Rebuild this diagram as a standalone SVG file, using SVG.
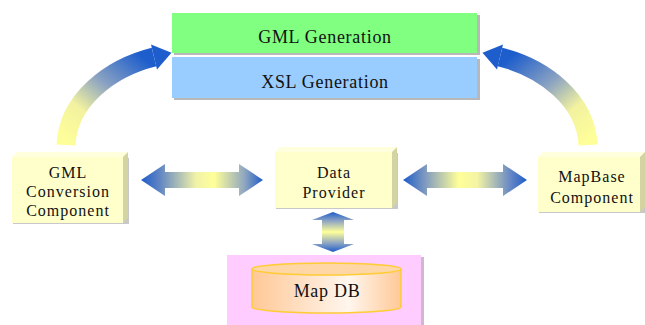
<svg xmlns="http://www.w3.org/2000/svg" width="645" height="325" viewBox="0 0 645 325">
  <defs>
    <style>
      text { font-family: 'Liberation Serif', 'Times New Roman', serif; fill: #111; text-anchor: middle; }
      .top { font-size: 18px; letter-spacing: 0.7px; }
      .node { font-size: 16px; letter-spacing: 1px; }
      .front { fill: #FFFFCC; }
      .topface { fill: #FFFFDD; }
      .side { fill: #D4D4A2; }
      .shadow { fill: #B8B8B8; }
    </style>
    <linearGradient id="arcL" gradientUnits="userSpaceOnUse" x1="66" y1="145" x2="140" y2="55">
      <stop offset="0" stop-color="#FFFF99"/>
      <stop offset="0.32" stop-color="#F2F2A0"/>
      <stop offset="0.62" stop-color="#8AA2C2"/>
      <stop offset="1" stop-color="#1E5ECC"/>
    </linearGradient>
    <linearGradient id="hArrow" x1="0" y1="0" x2="1" y2="0">
      <stop offset="0" stop-color="#1E5CC8"/>
      <stop offset="0.15" stop-color="#5F84C4"/>
      <stop offset="0.45" stop-color="#F0F2A8"/>
      <stop offset="0.6" stop-color="#FFFF99"/>
      <stop offset="0.85" stop-color="#8FA6C0"/>
      <stop offset="1" stop-color="#1E5CC8"/>
    </linearGradient>
    <linearGradient id="hArrow2" x1="0" y1="0" x2="1" y2="0">
      <stop offset="0" stop-color="#1E5CC8"/>
      <stop offset="0.18" stop-color="#7F9AC0"/>
      <stop offset="0.45" stop-color="#FFFF99"/>
      <stop offset="0.6" stop-color="#F4F4A4"/>
      <stop offset="0.85" stop-color="#6F8EC4"/>
      <stop offset="1" stop-color="#1E5CC8"/>
    </linearGradient>
    <linearGradient id="vArrow" x1="0" y1="0" x2="0" y2="1">
      <stop offset="0" stop-color="#1E5CC8"/>
      <stop offset="0.22" stop-color="#8CA4C4"/>
      <stop offset="0.5" stop-color="#FFFF99"/>
      <stop offset="0.78" stop-color="#8CA4C4"/>
      <stop offset="1" stop-color="#1E5CC8"/>
    </linearGradient>
    <linearGradient id="cyl" x1="0" y1="0" x2="1" y2="0">
      <stop offset="0" stop-color="#FFC896"/>
      <stop offset="0.65" stop-color="#FFF6EE"/>
      <stop offset="1" stop-color="#FFC896"/>
    </linearGradient>
  </defs>

  <rect width="645" height="325" fill="#FFFFFF"/>

  <g id="connectors">
    <g id="arc-left">
      <path d="M66,145 C68,100 110,68 154,57" fill="none" stroke="url(#arcL)" stroke-width="19"/>
      <polygon points="151,44.4 171.5,52.7 157,69.6" fill="#1E5ECC"/>
    </g>
    <g id="arc-right" transform="translate(654,0) scale(-1,1)">
      <path d="M66,145 C68,100 110,68 154,57" fill="none" stroke="url(#arcL)" stroke-width="19"/>
      <polygon points="151,44.4 171.5,52.7 157,69.6" fill="#1E5ECC"/>
    </g>
    <polygon id="arrow-left" fill="url(#hArrow)" points="141,180 165,164 165,172 239,172 239,164 263,180 239,196 239,188 165,188 165,196"/>
    <polygon id="arrow-right" fill="url(#hArrow2)" points="403,180 427,164 427,172 503,172 503,164 527,180 503,196 503,188 427,188 427,196"/>
    <polygon id="arrow-down" fill="url(#vArrow)" points="333,212 354,220 344,220 344,244 354,244 333,252 312,244 322,244 322,220 312,220"/>
  </g>

  <g id="gml-generation">
    <rect x="174" y="15" width="306" height="40" class="shadow"/>
    <rect x="172" y="13" width="305" height="40" fill="#80FF80"/>
    <text class="top" x="325" y="43" font-family="Liberation Serif, serif">GML Generation</text>
  </g>

  <g id="xsl-generation">
    <rect x="174" y="59" width="306" height="41" class="shadow"/>
    <rect x="172" y="57" width="305" height="41" fill="#99CCFF"/>
    <text class="top" x="325" y="88" font-family="Liberation Serif, serif">XSL Generation</text>
  </g>

  <g id="gml-conversion">
    <rect x="13" y="158" width="116" height="66" fill="#C8C8C8"/>
    <polygon class="topface" points="12,157 17,152 128,152 123,157"/>
    <polygon class="side" points="123,157 128,152 128,218 123,223"/>
    <rect class="front" x="12" y="157" width="111" height="66"/>
    <text class="node" x="68" y="178">GML</text>
    <text class="node" x="68" y="197">Conversion</text>
    <text class="node" x="68" y="216">Component</text>
  </g>

  <g id="data-provider">
    <rect x="276" y="153" width="122" height="56" fill="#C8C8C8"/>
    <polygon class="topface" points="275,152 280,147 397,147 392,152"/>
    <polygon class="side" points="392,152 397,147 397,203 392,208"/>
    <rect class="front" x="275" y="152" width="117" height="56"/>
    <text class="node" x="334" y="178">Data</text>
    <text class="node" x="334" y="198">Provider</text>
  </g>

  <g id="mapbase">
    <rect x="539" y="157" width="106" height="56" fill="#C8C8C8"/>
    <polygon class="topface" points="538,157 543,152 645,152 640,157"/>
    <polygon class="side" points="640,157 645,152 645,207 640,212"/>
    <rect class="front" x="538" y="157" width="102" height="55"/>
    <text class="node" x="592" y="182">MapBase</text>
    <text class="node" x="592" y="203">Component</text>
  </g>

  <g id="map-db">
    <rect x="229" y="257" width="195" height="70" fill="#D0B8D0"/>
    <rect x="227" y="255" width="194" height="70" fill="#FFCCFF"/>
    <path d="M252,269 L252,307 A74.5,6 0 0 0 401,307 L401,269" fill="url(#cyl)" stroke="#FFCC33" stroke-width="1.5"/>
    <ellipse cx="326.5" cy="269" rx="74.5" ry="6" fill="#FFD6A6" stroke="#FFCC33" stroke-width="1.5"/>
    <text class="top" x="327" y="297">Map DB</text>
  </g>
</svg>
